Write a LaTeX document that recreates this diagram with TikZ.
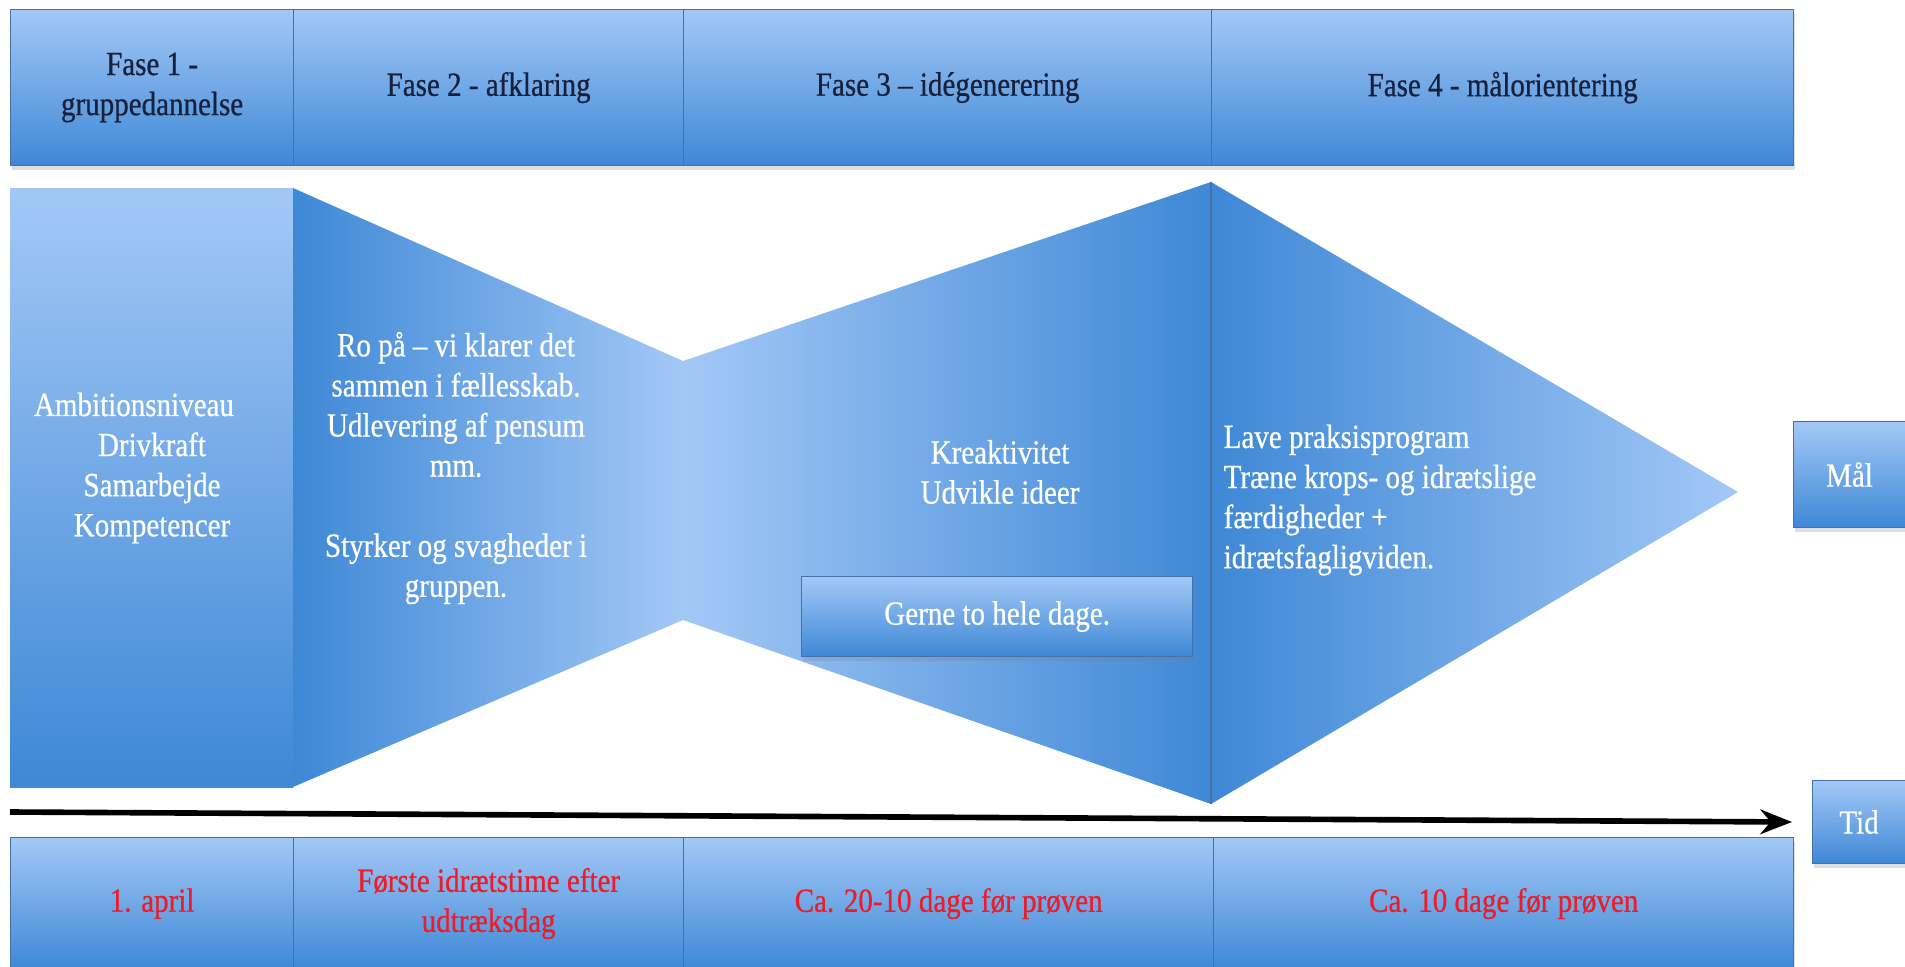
\documentclass[tikz,border=0pt]{standalone}
\usepackage{fontspec}
\setmainfont{Liberation Serif}[FakeStretch=0.86,FakeBold=0.6]
\usetikzlibrary{shadows,arrows.meta}
\definecolor{lightB}{RGB}{163,200,246}
\definecolor{darkB}{RGB}{62,136,214}
\definecolor{edgeB}{RGB}{70,112,170}
\definecolor{navy}{RGB}{25,32,60}
\definecolor{redT}{RGB}{236,28,40}
\begin{document}
\begin{tikzpicture}[x=0.01cm,y=-0.01cm,
  txt/.style={font=\fontsize{9.6}{11.4}\selectfont, align=center, inner sep=0pt},
  cell/.style={txt, draw=edgeB, line width=0.3pt, top color=lightB, bottom color=darkB,
    anchor=north west, drop shadow={opacity=0.25, shadow xshift=0.4pt, shadow yshift=-1.2pt}},
  wtext/.style={txt, text=white}]
\useasboundingbox (0,0) rectangle (1905,966);
\clip (0,0) rectangle (1905,966);
% top bar
\node[cell, text=navy, minimum width=2.83cm, minimum height=1.56cm] (f1) at (10,9) {Fase 1 -\\gruppedannelse};
\node[cell, text=navy, minimum width=3.90cm, minimum height=1.56cm] (f2) at (293,9) {Fase 2 - afklaring};
\node[cell, text=navy, minimum width=5.28cm, minimum height=1.56cm] (f3) at (683,9) {Fase 3 – idégenerering};
\node[cell, text=navy, minimum width=5.82cm, minimum height=1.56cm] (f4) at (1211,9) {Fase 4 - målorientering};
% middle shapes
\shade[top color=lightB, bottom color=darkB] (10,188) rectangle (293,787);
\shade[left color=darkB, right color=lightB] (293,188) -- (683,361) -- (683,620) -- (293,787) -- cycle;
\shade[left color=lightB, right color=darkB] (683,361) -- (1211,182) -- (1211,804) -- (683,620) -- cycle;
\shade[left color=darkB, right color=lightB] (1211,182) -- (1738,492) -- (1211,804) -- cycle;
\draw[edgeB, line width=0.3pt] (1211,182) -- (1211,804);
% middle texts
\node[wtext] (t1) at (152,468) {Ambitionsniveau\hspace*{0.36cm}\\Drivkraft\\Samarbejde\\Kompetencer};
\node[wtext] (t2) at (456,468) {Ro på – vi klarer det\\sammen i fællesskab.\\Udlevering af pensum\\mm.\\[11.4pt]Styrker og svagheder i\\gruppen.};
\node[wtext] (t3) at (1000,472) {Kreaktivitet\\Udvikle ideer};
\node[cell, text=white, minimum width=3.91cm, minimum height=0.80cm] (g) at (801,576) {Gerne to hele dage.};
\node[wtext, align=left, anchor=west] (t4) at (1223,500) {Lave praksisprogram\\Træne krops- og idrætslige\\færdigheder +\\idrætsfagligviden.};
\node[cell, text=white, minimum width=1.12cm, minimum height=1.06cm] (maal) at (1793,421) {Mål};
% arrow
\coordinate (as) at (10,812);
\coordinate (ae) at (1792,822);
\draw[line width=1.6pt, -{Stealth[length=9pt, width=7pt]}] (as) -- (ae);
\node[cell, text=white, minimum width=0.93cm, minimum height=0.83cm] (tid) at (1812,780) {Tid};
% bottom bar
\node[cell, text=redT, minimum width=2.83cm, minimum height=1.32cm] (b1) at (10,837) {1. april};
\node[cell, text=redT, minimum width=3.90cm, minimum height=1.32cm] (b2) at (293,837) {Første idrætstime efter\\udtræksdag};
\node[cell, text=redT, minimum width=5.30cm, minimum height=1.32cm] (b3) at (683,837) {Ca. 20-10 dage før prøven};
\node[cell, text=redT, minimum width=5.80cm, minimum height=1.32cm] (b4) at (1213,837) {Ca. 10 dage før prøven};
\end{tikzpicture}
\end{document}
